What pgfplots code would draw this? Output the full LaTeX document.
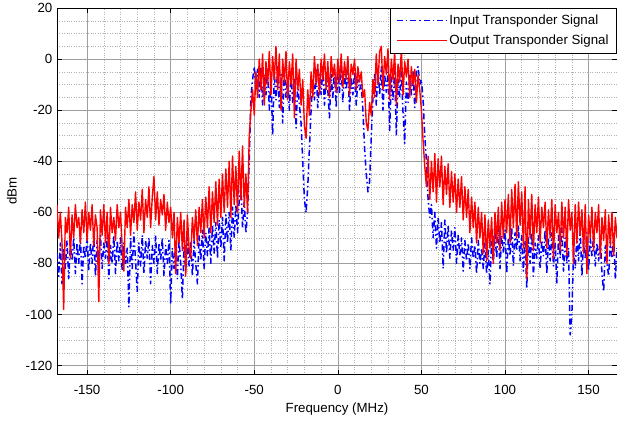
\documentclass[border=0pt]{standalone}
\usepackage{fontspec}
\setmainfont{Liberation Sans}
\usepackage{pgfplots}
\pgfplotsset{compat=1.18}
\begin{document}
\fontsize{13.3}{15}\selectfont
\begin{tikzpicture}
\path[use as bounding box] (-57pt,-46.5pt) rectangle (560pt,374.5pt);
\begin{axis}[
  scale only axis, width=560pt, height=366.5pt,
  xmin=-168, xmax=167, ymin=-123.5, ymax=20,
  xtick={-150,-100,-50,0,50,100,150},
  xticklabels={-150,-100,-50,0,50,100,150},
  ytick={-120,-100,-80,-60,-40,-20,0,20},
  yticklabels={-120,-100,-80,-60,-40,-20,0,20},
  minor x tick num=4, minor y tick num=3,
  grid=both,
  major grid style={black!38, line width=0.5pt},
  minor grid style={black!30, dotted, line width=0.5pt},
  major tick length=5pt, minor tick length=0pt,
  tick style={black, line width=0.6pt},
  axis line style={black, line width=0.8pt},
  tick label style={font=\fontsize{13.3}{15}\selectfont},
  x tick label style={yshift=-6pt},
  xlabel={Frequency (MHz)}, ylabel={dBm},
  label style={font=\fontsize{13.3}{15}\selectfont},
  xlabel style={at={(axis description cs:0.5,-0.105)}, anchor=base},
  ylabel style={at={(axis description cs:-0.0804,0.5)}, anchor=center},
  legend style={at={(1,1)}, anchor=north east, draw=black, fill=white, line width=0.8pt,
    font=\fontsize{13.3}{15}\selectfont, inner xsep=6pt, inner ysep=4.5pt, row sep=4.5pt},
  legend cell align=left,
  legend image code/.code={\draw[#1, line width=1.2pt] (0pt,0pt) -- (50pt,0pt);},
]
\addplot[color={rgb,255:red,0;green,0;blue,255}, line width=1.5pt, line join=round, dash pattern=on 6pt off 3pt on 1.5pt off 3pt] coordinates {
(-168,-76) (-167,-85) (-166,-72) (-165,-88) (-164,-74) (-163,-82) (-162,-71) (-161,-86) (-160,-73) (-159,-79)
(-158,-70) (-157,-84) (-156,-72) (-155,-80) (-154,-69) (-153,-88) (-152,-73) (-151,-78) (-150,-70) (-149,-83)
(-148,-72) (-147,-80) (-146,-68) (-145,-85) (-144,-71) (-143,-79) (-142,-69) (-141,-82) (-140,-72) (-139,-78)
(-138,-70) (-137,-86) (-136,-73) (-135,-80) (-134,-69) (-133,-84) (-132,-71) (-131,-79) (-130,-70) (-129,-83)
(-128,-72) (-127,-80) (-126,-74) (-125,-97) (-124,-70) (-123,-82) (-122,-68) (-121,-79) (-120,-91) (-119,-72)
(-118,-81) (-117,-69) (-116,-84) (-115,-71) (-114,-78) (-113,-70) (-112,-88) (-111,-73) (-110,-80) (-109,-69)
(-108,-84) (-107,-72) (-106,-79) (-105,-70) (-104,-85) (-103,-73) (-102,-80) (-101,-71) (-100,-96) (-99,-74)
(-98,-82) (-97,-72) (-96,-86) (-95,-71) (-94,-80) (-93,-94) (-92,-73) (-91,-83) (-90,-70) (-89,-81)
(-88,-72) (-87,-85) (-86,-71) (-85,-80) (-84,-88) (-83,-69) (-82,-79) (-81,-67) (-80,-82) (-79,-68)
(-78,-77) (-77,-66) (-76,-80) (-75,-65) (-74,-76) (-73,-64) (-72,-78) (-71,-63) (-70,-74) (-69,-62)
(-68,-79) (-67,-61) (-66,-72) (-65,-60) (-64,-75) (-63,-58) (-62,-70) (-61,-57) (-60,-68) (-59,-55)
(-58,-50) (-57,-66) (-56,-56) (-55,-68) (-54,-60) (-53,-40) (-52,-15) (-51,-8) (-50,-3) (-49,-12)
(-48,-4) (-47,-15) (-46,-3) (-45,-18) (-44,-6) (-43,-14) (-42,-4) (-41,-20) (-40,-7) (-39,-30)
(-38,-5) (-37,-16) (-36,-3) (-35,-19) (-34,-6) (-33,-25) (-32,-4) (-31,-15) (-30,-7) (-29,-20)
(-28,-5) (-27,-17) (-26,-8) (-25,-27) (-24,-9) (-23,-18) (-22,-25) (-21,-40) (-20,-55) (-19,-60)
(-18,-50) (-17,-35) (-16,-20) (-15,-8) (-14,-16) (-13,-4) (-12,-19) (-11,-6) (-10,-14) (-9,-3)
(-8,-18) (-7,-5) (-6,-12) (-5,-23) (-4,-6) (-3,-15) (-2,-4) (-1,-19) (0,-5) (1,-13)
(2,-3) (3,-17) (4,-6) (5,-12) (6,-4) (7,-20) (8,-7) (9,-14) (10,-5) (11,-18)
(12,-8) (13,-12) (14,-10) (15,-20) (16,-35) (17,-45) (18,-52) (19,-48) (20,-30) (21,-15)
(22,-6) (23,-18) (24,-4) (25,-14) (26,-3) (27,-20) (28,-6) (29,-13) (30,-5) (31,-28)
(32,-7) (33,-16) (34,-4) (35,-30) (36,-8) (37,-15) (38,-5) (39,-21) (40,-33) (41,-9)
(42,-17) (43,-6) (44,-14) (45,-5) (46,-19) (47,-4) (48,-3) (49,-10) (50,-8) (51,-16)
(52,-30) (53,-40) (54,-55) (55,-62) (56,-57) (57,-70) (58,-60) (59,-74) (60,-62) (61,-72)
(62,-64) (63,-82) (64,-63) (65,-76) (66,-65) (67,-78) (68,-67) (69,-75) (70,-66) (71,-80)
(72,-69) (73,-77) (74,-70) (75,-83) (76,-71) (77,-79) (78,-72) (79,-82) (80,-70) (81,-78)
(82,-73) (83,-84) (84,-71) (85,-80) (86,-74) (87,-82) (88,-72) (89,-84) (90,-75) (91,-88)
(92,-71) (93,-80) (94,-68) (95,-78) (96,-66) (97,-82) (98,-69) (99,-76) (100,-67) (101,-84)
(102,-70) (103,-77) (104,-66) (105,-81) (106,-68) (107,-75) (108,-65) (109,-79) (110,-69) (111,-83)
(112,-71) (113,-90) (114,-70) (115,-80) (116,-68) (117,-85) (118,-72) (119,-78) (120,-69) (121,-82)
(122,-71) (123,-77) (124,-67) (125,-84) (126,-70) (127,-79) (128,-68) (129,-81) (130,-72) (131,-88)
(132,-69) (133,-78) (134,-66) (135,-83) (136,-70) (137,-80) (138,-74) (139,-108) (140,-100) (141,-75)
(142,-82) (143,-69) (144,-79) (145,-67) (146,-85) (147,-71) (148,-78) (149,-68) (150,-83) (151,-70)
(152,-77) (153,-69) (154,-81) (155,-72) (156,-79) (157,-70) (158,-84) (159,-91) (160,-73) (161,-80)
(162,-85) (163,-71) (164,-78) (165,-69) (166,-86) (167,-74)
};
\addlegendentry{Input Transponder Signal}
\addplot[color={rgb,255:red,255;green,0;blue,0}, line width=1.4pt, line join=round, solid] coordinates {
(-168,-57) (-167,-70) (-166,-60) (-165,-72) (-164,-98) (-163,-62) (-162,-68) (-161,-58) (-160,-78) (-159,-61)
(-158,-70) (-157,-57) (-156,-66) (-155,-62) (-154,-72) (-153,-59) (-152,-68) (-151,-56) (-150,-71) (-149,-60)
(-148,-67) (-147,-57) (-146,-73) (-145,-61) (-144,-66) (-143,-95) (-142,-59) (-141,-69) (-140,-57) (-139,-72)
(-138,-60) (-137,-80) (-136,-58) (-135,-68) (-134,-62) (-133,-71) (-132,-57) (-131,-66) (-130,-60) (-129,-74)
(-128,-83) (-127,-58) (-126,-66) (-125,-55) (-124,-69) (-123,-57) (-122,-64) (-121,-52) (-120,-67) (-119,-56)
(-118,-63) (-117,-51) (-116,-68) (-115,-55) (-114,-62) (-113,-50) (-112,-66) (-111,-54) (-110,-46) (-109,-63)
(-108,-52) (-107,-65) (-106,-55) (-105,-61) (-104,-53) (-103,-67) (-102,-56) (-101,-64) (-100,-58) (-99,-70)
(-98,-60) (-97,-84) (-96,-62) (-95,-72) (-94,-60) (-93,-75) (-92,-63) (-91,-85) (-90,-61) (-89,-74)
(-88,-78) (-87,-62) (-86,-71) (-85,-59) (-84,-73) (-83,-58) (-82,-68) (-81,-55) (-80,-70) (-79,-54)
(-78,-66) (-77,-50) (-76,-68) (-75,-52) (-74,-64) (-73,-48) (-72,-65) (-71,-47) (-70,-62) (-69,-45)
(-68,-60) (-67,-43) (-66,-58) (-65,-40) (-64,-62) (-63,-38) (-62,-57) (-61,-42) (-60,-60) (-59,-36)
(-58,-55) (-57,-34) (-56,-58) (-55,-45) (-54,-60) (-53,-30) (-52,-20) (-51,-12) (-50,-22) (-49,-5)
(-48,-15) (-47,0) (-46,-12) (-45,2) (-44,-18) (-43,-1) (-42,-10) (-41,3) (-40,-14) (-39,1)
(-38,-8) (-37,5) (-36,-12) (-35,2) (-34,-20) (-33,0) (-32,-9) (-31,3) (-30,-16) (-29,-1)
(-28,-10) (-27,2) (-26,-23) (-25,0) (-24,-12) (-23,-4) (-22,-18) (-21,-8) (-20,-26) (-19,-31)
(-18,-12) (-17,-22) (-16,-5) (-15,-15) (-14,1) (-13,-10) (-12,-2) (-11,-14) (-10,0) (-9,-8)
(-8,2) (-7,-12) (-6,-1) (-5,-15) (-4,1) (-3,-7) (-2,-2) (-1,-13) (0,0) (1,-9)
(2,2) (3,-11) (4,-1) (5,-8) (6,1) (7,-14) (8,-2) (9,-6) (10,0) (11,-12)
(12,-3) (13,-9) (14,-5) (15,-15) (16,-12) (17,-25) (18,-28) (19,-17) (20,-22) (21,-8)
(22,-15) (23,2) (24,-10) (25,3) (26,5) (27,-12) (28,1) (29,-6) (30,4) (31,-16)
(32,0) (33,-8) (34,3) (35,-18) (36,-2) (37,-9) (38,4) (39,-14) (40,-1) (41,-7)
(42,0) (43,-15) (44,-3) (45,-10) (46,-4) (47,-17) (48,-6) (49,-12) (50,-20) (51,-32)
(52,-42) (53,-50) (54,-38) (55,-55) (56,-40) (57,-52) (58,-37) (59,-56) (60,-39) (61,-50)
(62,-38) (63,-57) (64,-42) (65,-53) (66,-41) (67,-58) (68,-44) (69,-56) (70,-45) (71,-60)
(72,-47) (73,-58) (74,-46) (75,-63) (76,-50) (77,-62) (78,-51) (79,-68) (80,-54) (81,-66)
(82,-56) (83,-72) (84,-58) (85,-70) (86,-60) (87,-76) (88,-61) (89,-79) (90,-63) (91,-74)
(92,-62) (93,-80) (94,-60) (95,-72) (96,-58) (97,-75) (98,-56) (99,-70) (100,-55) (101,-68)
(102,-53) (103,-72) (104,-51) (105,-66) (106,-49) (107,-70) (108,-48) (109,-65) (110,-52) (111,-74)
(112,-50) (113,-86) (114,-55) (115,-70) (116,-53) (117,-75) (118,-57) (119,-68) (120,-54) (121,-72)
(122,-58) (123,-66) (124,-56) (125,-74) (126,-59) (127,-70) (128,-55) (129,-78) (130,-57) (131,-68)
(132,-60) (133,-75) (134,-56) (135,-70) (136,-58) (137,-77) (138,-55) (139,-67) (140,-60) (141,-80)
(142,-57) (143,-72) (144,-56) (145,-69) (146,-59) (147,-76) (148,-57) (149,-84) (150,-61) (151,-70)
(152,-58) (153,-75) (154,-60) (155,-68) (156,-57) (157,-78) (158,-62) (159,-71) (160,-59) (161,-80)
(162,-61) (163,-73) (164,-60) (165,-77) (166,-62) (167,-70)
};
\addlegendentry{Output Transponder Signal}
\end{axis}
\end{tikzpicture}
\end{document}
